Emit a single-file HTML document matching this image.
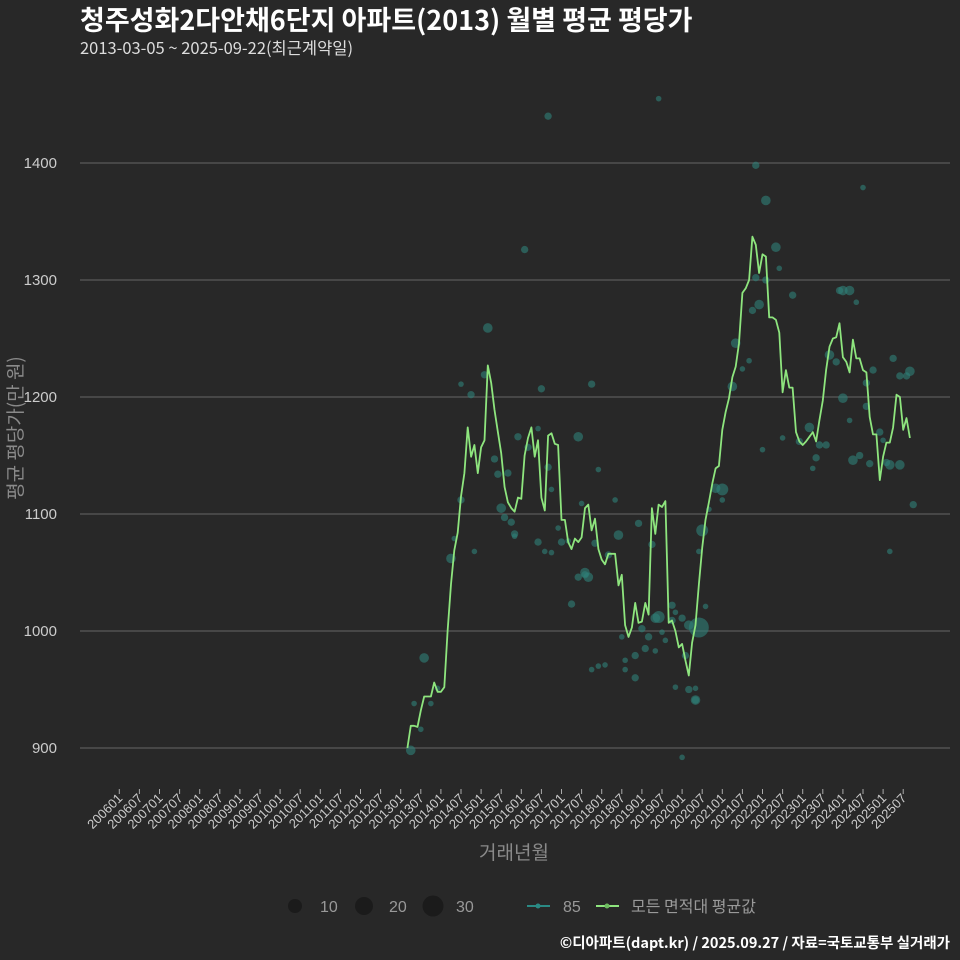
<!DOCTYPE html>
<html><head><meta charset="utf-8">
<style>
html,body{margin:0;padding:0;background:#282828;}
svg{display:block;font-family:"Liberation Sans","Noto Sans CJK KR",sans-serif;}
.kr{font-family:"Noto Sans CJK KR","Liberation Sans",sans-serif;}
</style></head>
<body>
<svg id="chart" width="960" height="960" viewBox="0 0 960 960" xmlns="http://www.w3.org/2000/svg">
<rect x="0" y="0" width="960" height="960" fill="#282828"/>
<text class="kr" x="80" y="30" fill="#ffffff" font-size="27" font-weight="bold">청주성화2다안채6단지 아파트(2013) 월별 평균 평당가</text>
<text class="kr" x="80" y="54" fill="#dddddd" font-size="16.5">2013-03-05 ~ 2025-09-22(최근계약일)</text>
<g id="grid"></g>
<g id="yticks"></g>
<g id="xticks"></g>
<g id="bubbles"></g>
<path id="avgline" fill="none" stroke="#8ee57e" stroke-width="1.8" stroke-linejoin="round"/>
<text class="kr" x="0" y="0" transform="translate(22,428) rotate(-90)" text-anchor="middle" fill="#8a8a8a" font-size="19">평균 평당가(만 원)</text>
<text class="kr" x="514" y="859" text-anchor="middle" fill="#8a8a8a" font-size="19">거래년월</text>
<g>
<circle cx="295" cy="906" r="7" fill="#1b1b1b"/>
<text x="320" y="912" fill="#999" font-size="16">10</text>
<circle cx="364" cy="906" r="9" fill="#1b1b1b"/>
<text x="389" y="912" fill="#999" font-size="16">20</text>
<circle cx="433" cy="906" r="10.5" fill="#1b1b1b"/>
<text x="456" y="912" fill="#999" font-size="16">30</text>
<line x1="527" y1="906" x2="550" y2="906" stroke="#2a8a84" stroke-width="2"/>
<circle cx="538" cy="906" r="2.5" fill="#2a8a84"/>
<text x="563" y="912" fill="#999" font-size="16">85</text>
<line x1="596" y1="906" x2="619" y2="906" stroke="#8ee57e" stroke-width="2"/>
<circle cx="607" cy="906" r="2.5" fill="#6dbb5f"/>
<text class="kr" x="631" y="912" fill="#999" font-size="16">모든 면적대 평균값</text>
</g>
<text class="kr" x="950" y="948" text-anchor="end" fill="#ffffff" font-size="14.5" font-weight="bold">©디아파트(dapt.kr) / 2025.09.27 / 자료=국토교통부 실거래가</text>
</svg>
<script>
const yTicks = [900, 1000, 1100, 1200, 1300, 1400];
const xTickLabels = ["200601","200607","200701","200707","200801","200807","200901","200907","201001","201007","201101","201107","201201","201207","201301","201307","201401","201407","201501","201507","201601","201607","201701","201707","201801","201807","201901","201907","202001","202007","202101","202107","202201","202207","202301","202307","202401","202407","202501","202507"];
// average line: monthly values starting 2013-03 (month index 86 since 2006-01)
const lineStartMonth = 86;
const lineValues = [900,919,919,918,932,944,944,944,956,948,948,952,1000,1040,1069,1084,1115,1135,1174,1149,1159,1135,1157,1163,1227,1212,1189,1170,1152,1123,1110,1105,1102,1114,1113,1150,1165,1174,1149,1163,1114,1103,1167,1169,1160,1159,1095,1095,1076,1070,1079,1076,1080,1105,1108,1086,1096,1070,1061,1057,1066,1066,1066,1039,1048,1005,995,1003,1024,1007,1008,1024,1014,1105,1083,1108,1106,1111,1007,1009,1000,986,989,975,962,990,1005,1040,1071,1095,1110,1126,1139,1141,1172,1187,1199,1217,1226,1246,1289,1293,1300,1337,1330,1306,1322,1320,1268,1268,1266,1255,1204,1223,1208,1208,1170,1162,1159,1162,1166,1170,1162,1180,1197,1223,1243,1250,1251,1263,1234,1230,1221,1249,1233,1233,1223,1221,1183,1168,1168,1129,1149,1161,1161,1174,1202,1200,1172,1182,1165];
// bubbles: month index since 2006-01, value, trade count
const bubbleMonths = [87,91,90,88,93,95,99,100,102,102,105,109,106,110,112,113,116,114,115,117,118,118,119,122,125,126,125,127,128,129,131,129,132,134,137,138,135,137,139,139,140,141,143,142,146,148,149,150,151,151,154,155,159,160,161,160,161,163,165,165,170,173,172,172,168,173,174,175,176,178,180,180,183,184,186,188,189,190,191,193,190,193,196,197,201,198,203,206,208,207,209,211,212,214,215,216,216,218,218,220,222,219,221,224,225,227,228,230,230,231,233,235,233,236,237,229,223,223,192,145,143,141,154,156,157,158,162,166,168,166,169,170,172,128,121];
const bubbleValues = [898,977,916,938,938,951,1062,1079,1112,1211,1202,1219,1068,1259,1147,1134,1135,1105,1097,1093,1083,1081,1166,1157,1173,1207,1076,1068,1140,1121,1088,1067,1076,1077,1166,1109,1023,1046,1050,1048,1046,1211,1138,1075,1065,1112,1082,995,967,975,960,1092,1074,983,1455,1011,1012,992,1009,1022,1005,1003,941,951,892,1068,1086,1021,1104,1122,1121,1112,1209,1246,1224,1231,1274,1302,1279,1300,1398,1368,1328,1310,1287,1165,1162,1174,1148,1139,1159,1159,1236,1230,1291,1291,1199,1291,1180,1281,1379,1146,1150,1143,1223,1170,1163,1142,1068,1233,1218,1218,1142,1222,1108,1144,1212,1192,1155,971,970,967,979,1002,985,995,999,1016,1011,952,979,950,941,1440,1326];
const bubbleCounts = [4,4,1,1,1,1,4,1,2,1,2,2,1,4,2,2,2,4,2,2,2,1,2,2,1,2,2,1,2,1,1,1,2,1,4,1,2,2,4,2,4,2,1,2,2,1,4,1,1,1,2,2,2,1,1,4,7,1,2,2,4,26,2,1,1,1,7,1,1,4,7,1,4,4,1,1,2,2,4,2,2,4,4,1,2,1,2,4,2,1,2,2,4,2,2,4,4,4,1,1,1,4,2,2,2,2,1,4,1,2,2,2,4,4,2,2,2,2,1,1,1,1,2,2,2,2,1,1,2,1,2,2,4,2,2];

const NS = "http://www.w3.org/2000/svg";
const m0 = 0, x0 = 119.3, pxPerMonth = 3.35;
function xScale(m){ return x0 + (m - m0) * pxPerMonth; }
function yScale(v){ return 748 - (v - 900) * 1.17; }
function rScale(n){ return 2.8 * Math.pow(n, 0.39); }

const grid = document.getElementById('grid');
const yt = document.getElementById('yticks');
yTicks.forEach(v => {
  const l = document.createElementNS(NS, 'line');
  l.setAttribute('x1', 80); l.setAttribute('x2', 950);
  l.setAttribute('y1', yScale(v)); l.setAttribute('y2', yScale(v));
  l.setAttribute('stroke', '#5a5a5a'); l.setAttribute('stroke-width', '1.2');
  
  
  grid.appendChild(l);
  const t = document.createElementNS(NS, 'text');
  t.setAttribute('x', 57); t.setAttribute('y', yScale(v) + 5);
  t.setAttribute('text-anchor', 'end'); t.setAttribute('fill', '#cccccc'); t.setAttribute('font-size', '15');
  t.textContent = v;
  
  
  yt.appendChild(t);
});

const xt = document.getElementById('xticks');
xTickLabels.forEach((lab, i) => {
  const x = xScale(i * 6);
  const tk = document.createElementNS(NS, 'line');
  tk.setAttribute('x1', x); tk.setAttribute('x2', x); tk.setAttribute('y1', 789); tk.setAttribute('y2', 794);
  tk.setAttribute('stroke', '#aaaaaa'); tk.setAttribute('stroke-width', '1');
  
  
  xt.appendChild(tk);
  const t = document.createElementNS(NS, 'text');
  t.setAttribute('transform', 'translate(' + (x + 4) + ',799) rotate(-45)');
  t.setAttribute('text-anchor', 'end'); t.setAttribute('fill', '#cccccc'); t.setAttribute('font-size', '13');
  t.textContent = lab;
  
  
  xt.appendChild(t);
});

const bg = document.getElementById('bubbles');
bubbleMonths.forEach((m, i) => {
  const c = document.createElementNS(NS, 'circle');
  c.setAttribute('cx', xScale(m)); c.setAttribute('cy', yScale(bubbleValues[i]));
  c.setAttribute('r', rScale(bubbleCounts[i]));
  c.setAttribute('fill', '#2e8078'); c.setAttribute('fill-opacity', '0.6');
  
  
  bg.appendChild(c);
});

let d = '';
lineValues.forEach((v, i) => {
  d += (i ? 'L' : 'M') + xScale(lineStartMonth + i).toFixed(1) + ',' + yScale(v).toFixed(1);
});
document.getElementById('avgline').setAttribute('d', d);
</script>
</body></html>
